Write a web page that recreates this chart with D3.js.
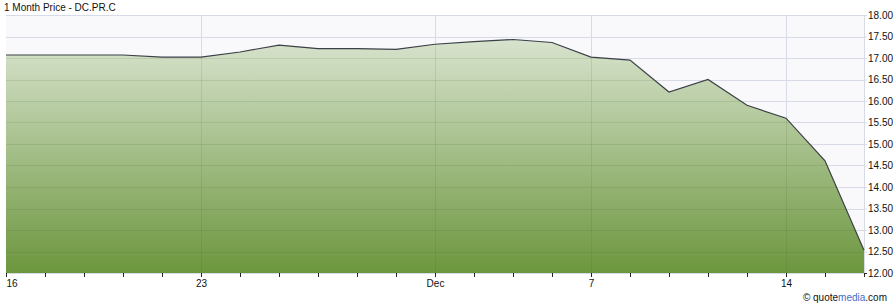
<!DOCTYPE html>
<html>
<head>
<meta charset="utf-8">
<script src="https://cdn.jsdelivr.net/npm/d3@7"></script>
<style>
  body { margin: 0; background: #ffffff; }
  svg text { font-family: "Liberation Sans", Arial, sans-serif; }
</style>
</head>
<body>
<script>
// trading days shown on the chart
var days = ["2015-11-16", "2015-11-17", "2015-11-18", "2015-11-19", "2015-11-20",
  "2015-11-23", "2015-11-24", "2015-11-25", "2015-11-26", "2015-11-27",
  "2015-11-30", "2015-12-01", "2015-12-02", "2015-12-03", "2015-12-04",
  "2015-12-07", "2015-12-08", "2015-12-09", "2015-12-10", "2015-12-11",
  "2015-12-14", "2015-12-15", "2015-12-16"];

// closing prices
var prices = [17.07, 17.07, 17.07, 17.07, 17.02, 17.02, 17.14, 17.30, 17.22, 17.22,
  17.20, 17.32, 17.38, 17.43, 17.36, 17.02, 16.95, 16.21, 16.50, 15.90,
  15.60, 14.61, 12.53];

// labelled days on the x axis
var tickDays = ["2015-11-16", "2015-11-23", "2015-12-01", "2015-12-07", "2015-12-14"];
var tickNames = ["16", "23", "Dec", "7", "14"];

// price ticks on the right
var yTicks = [12, 12.5, 13, 13.5, 14, 14.5, 15, 15.5, 16, 16.5, 17, 17.5, 18];

var w = 896;
var h = 305;
var margin = { left: 6, right: 32, top: 15, bottom: 32 };

var data = days.map(function(d, i) {
  return { day: d, price: prices[i] };
});

var svg = d3.select("body")
  .append("svg")
  .attr("width", w)
  .attr("height", h);

var xScale = d3.scalePoint()
  .domain(days)
  .range([margin.left, w - margin.right]);

var yScale = d3.scaleLinear()
  .domain([12, 18])
  .range([h - margin.bottom, margin.top]);

var x0 = margin.left, x1 = w - margin.right;
var y0 = h - margin.bottom, y1 = margin.top;

var area = d3.area()
  .x(function(d) { return xScale(d.day); })
  .y0(y0)
  .y1(function(d) { return yScale(d.price); });

var defs = svg.append("defs");

// gradient for the area
var gradient = defs.append("linearGradient")
  .attr("id", "areaFill")
  .attr("gradientUnits", "userSpaceOnUse")
  .attr("x1", 0).attr("x2", 0)
  .attr("y1", y1).attr("y2", y0);
gradient.append("stop").attr("offset", "0%").attr("stop-color", "#e3ebdc");
gradient.append("stop").attr("offset", "100%").attr("stop-color", "#6c963e");

// clip so the grid can be darkened where it crosses the fill
defs.append("clipPath")
  .attr("id", "areaClip")
  .append("path")
  .datum(data)
  .attr("d", area);

// plot background
svg.append("rect")
  .attr("x", x0)
  .attr("y", y1)
  .attr("width", x1 - x0)
  .attr("height", y0 - y1)
  .attr("fill", "#f9f9fb");

function drawGrid(g, color, opacity) {
  g.selectAll(".h")
    .data(yTicks)
    .enter()
    .append("line")
    .attr("x1", x0)
    .attr("x2", x1)
    .attr("y1", function(d) { return Math.round(yScale(d)) + 0.5; })
    .attr("y2", function(d) { return Math.round(yScale(d)) + 0.5; })
    .attr("stroke", color)
    .attr("stroke-opacity", opacity);

  g.selectAll(".v")
    .data(tickDays.slice(1).concat([days[days.length - 1]]))
    .enter()
    .append("line")
    .attr("x1", function(d) { return Math.round(xScale(d)) + 0.5; })
    .attr("x2", function(d) { return Math.round(xScale(d)) + 0.5; })
    .attr("y1", y1)
    .attr("y2", y0)
    .attr("stroke", color)
    .attr("stroke-opacity", opacity);
}

drawGrid(svg.append("g"), "#d7dbe8", 1);

svg.append("path")
  .datum(data)
  .attr("d", area)
  .attr("fill", "url(#areaFill)");

drawGrid(svg.append("g").attr("clip-path", "url(#areaClip)"), "#3d5a25", 0.13);

// price line
var line = d3.line()
  .x(function(d) { return xScale(d.day); })
  .y(function(d) { return yScale(d.price); });

svg.append("path")
  .datum(data)
  .attr("d", line)
  .attr("fill", "none")
  .attr("stroke", "#3b4046")
  .attr("stroke-width", 1.2);

// x axis: a small tick on every trading day
var xAxis = d3.axisBottom(xScale)
  .tickSize(4)
  .tickFormat(function(d) {
    var k = tickDays.indexOf(d);
    return k < 0 ? "" : tickNames[k];
  });

var gx = svg.append("g")
  .attr("transform", "translate(0," + y0 + ")")
  .call(xAxis);
gx.select(".domain").remove();
gx.selectAll(".tick line").attr("stroke", "#222").attr("stroke-width", 1);
gx.selectAll(".tick text")
  .attr("fill", "#111")
  .attr("font-size", "10px")
  .attr("y", 7)
  .attr("text-anchor", function(d) { return d === days[0] ? "start" : "middle"; });

// y axis on the right
var yAxis = d3.axisRight(yScale)
  .tickValues(yTicks)
  .tickSize(3)
  .tickFormat(d3.format(".2f"));

var gy = svg.append("g")
  .attr("transform", "translate(" + x1 + ",0)")
  .call(yAxis);
gy.select(".domain").remove();
gy.selectAll(".tick line").attr("stroke", "#d8dce8");
gy.selectAll(".tick line").filter(function(d) { return d === 12; }).attr("stroke", "#222");
gy.selectAll(".tick text")
  .attr("fill", "#111")
  .attr("font-size", "10px")
  .attr("x", 4);

// title
svg.append("text")
  .attr("x", 4)
  .attr("y", 11)
  .attr("font-size", "10px")
  .attr("fill", "#111")
  .text("1 Month Price - DC.PR.C");

// credit
var credit = svg.append("text")
  .attr("x", w - 9)
  .attr("y", 301)
  .attr("text-anchor", "end")
  .attr("font-size", "10px")
  .attr("fill", "#111");
credit.append("tspan").text("\u00a9 quote");
credit.append("tspan").attr("fill", "#3a6fc9").text("media");
credit.append("tspan").text(".com");
</script>
</body>
</html>
